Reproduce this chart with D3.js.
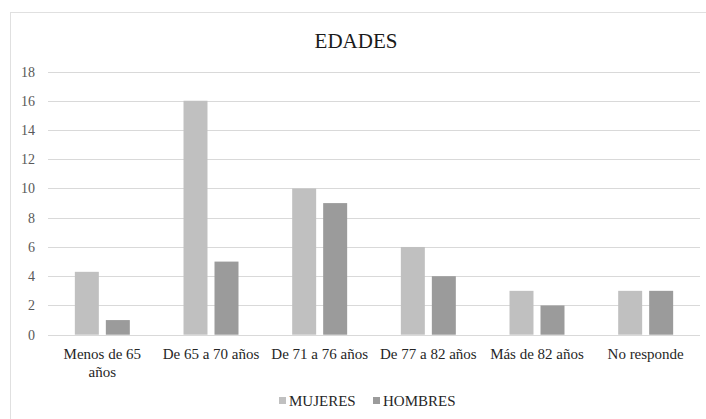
<!DOCTYPE html>
<html>
<head>
<meta charset="utf-8">
<script src="https://cdn.jsdelivr.net/npm/d3@7"></script>
<style>
  body { margin: 0; background: #fff; }
  svg text { font-family: "Liberation Serif", "DejaVu Serif", serif !important; }
</style>
</head>
<body>
<svg id="chart" width="706" height="419"></svg>
<script>
// data
var categories = [["Menos de 65", "años"], ["De 65 a 70 años"], ["De 71 a 76 años"], ["De 77 a 82 años"], ["Más de 82 años"], ["No responde"]];
var seriesNames = ["MUJERES", "HOMBRES"];
var mujeres = [4.3, 16, 10, 6, 3, 3];
var hombres = [1, 5, 9, 4, 2, 3];
var yTicks = [0, 2, 4, 6, 8, 10, 12, 14, 16, 18];
var colors = ["#c0c0c0", "#9b9b9b"];

var serif = '"Liberation Serif", "DejaVu Serif", serif';
var svg = d3.select('#chart');

// outer frame
svg.append('rect')
    .attr('x', 10.5).attr('y', 12.5)
    .attr('width', 700).attr('height', 420)
    .attr('fill', '#fff')
    .attr('stroke', '#e0e0e0');

// plot area (window.top is reserved, so prefixed names)
var plotLeft = 48, plotRight = 700, plotTop = 71.5, plotBottom = 334.7;

var x = d3.scaleBand()
    .domain(d3.range(categories.length))
    .range([plotLeft, plotRight]);
var xs = d3.scaleBand()
    .domain([0, 1])
    .range([0, x.bandwidth()])
    .paddingInner(0.226)
    .paddingOuter(0.866);
var y = d3.scaleLinear().domain([0, 18]).range([plotBottom, plotTop]);

// gridlines
svg.append('g')
    .selectAll('line')
    .data(yTicks).enter()
    .append('line')
        .attr('x1', plotLeft).attr('x2', plotRight)
        .attr('y1', d => Math.round(y(d)) + 0.5).attr('y2', d => Math.round(y(d)) + 0.5)
        .attr('stroke', '#d9d9d9')
        .attr('stroke-width', 1);

// y labels
svg.append('g')
    .selectAll('text')
    .data(yTicks).enter()
    .append('text')
        .attr('x', 35)
        .attr('y', d => y(d) + 5)
        .attr('text-anchor', 'end')
        .style('font-family', serif)
        .style('font-size', '14px')
        .attr('fill', '#595959')
        .text(d => d);

// bars
var rows = categories.map((c, i) => [mujeres[i], hombres[i]]);
var groups = svg.append('g')
    .selectAll('g')
    .data(rows).enter()
    .append('g')
    .attr('transform', (d, i) => 'translate(' + x(i) + ',0)');
groups.selectAll('rect')
    .data(d => d).enter()
    .append('rect')
        .attr('x', (d, j) => xs(j))
        .attr('y', d => y(d))
        .attr('width', xs.bandwidth())
        .attr('height', d => y(0) - y(d))
        .attr('fill', (d, j) => colors[j]);

// category labels
var catLabels = svg.append('g')
    .selectAll('text')
    .data(categories).enter()
    .append('text')
        .attr('x', (d, i) => x(i) + x.bandwidth() / 2)
        .attr('y', 359)
        .attr('text-anchor', 'middle')
        .style('font-family', serif)
        .style('font-size', '15px')
        .attr('fill', '#262626');
catLabels.selectAll('tspan')
    .data(d => d).enter()
    .append('tspan')
        .attr('x', function() { return d3.select(this.parentNode).attr('x'); })
        .attr('dy', (d, k) => k === 0 ? 0 : 18)
        .text(d => d);

// title
svg.append('text')
    .attr('x', 356)
    .attr('y', 48)
    .attr('text-anchor', 'middle')
    .style('font-family', serif)
    .style('font-size', '21px')
    .attr('fill', '#1a1a1a')
    .text('EDADES');

// legend
var legendX = [279, 373];
var legend = svg.append('g')
    .selectAll('g')
    .data(seriesNames).enter()
    .append('g')
    .attr('transform', (d, i) => 'translate(' + legendX[i] + ',397)');
legend.append('rect')
    .attr('x', 0).attr('y', 0)
    .attr('width', 7).attr('height', 7)
    .attr('fill', (d, i) => colors[i]);
legend.append('text')
    .attr('x', 10)
    .attr('y', 9)
    .style('font-family', serif)
    .style('font-size', '15px')
    .attr('fill', '#262626')
    .text(d => d);
</script>
</body>
</html>
